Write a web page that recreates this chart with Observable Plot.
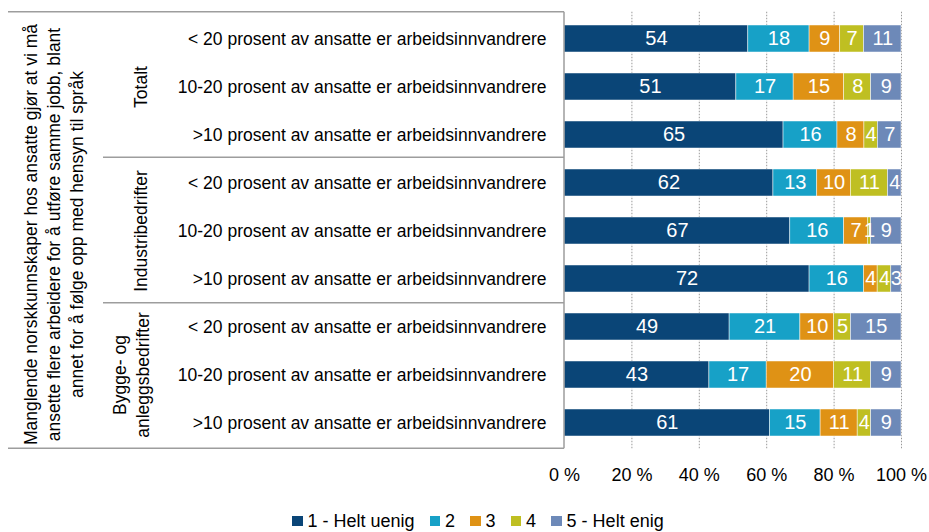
<!DOCTYPE html>
<html>
<head>
<meta charset="utf-8">
<script src="https://cdn.jsdelivr.net/npm/d3@7"></script>
<script src="https://cdn.jsdelivr.net/npm/@observablehq/plot@0.6"></script>
<style>
  body { margin: 0; background: #fff; font-family: "Liberation Sans", Arial, sans-serif; }
  #legend { display: flex; align-items: center; height: 22px; margin-top: 20px; padding-left: 292px; font-size: 18px; color: #000; }
  #legend .item { display: flex; align-items: center; margin-right: 15px; }
  #legend .sw { width: 10.5px; height: 10.5px; margin-right: 5px; }
</style>
</head>
<body>
<div id="chart"></div>
<div id="legend"></div>
<script>
const groups = ["Totalt", "Industribedrifter", "Bygge- og\nanleggsbedrifter"];
const categories = [
  "< 20 prosent av ansatte er arbeidsinnvandrere",
  "10-20 prosent av ansatte er arbeidsinnvandrere",
  ">10 prosent av ansatte er arbeidsinnvandrere"
];
const levels = ["1 - Helt uenig", "2", "3", "4", "5 - Helt enig"];
const totalt   = [[54, 18, 9, 7, 11], [51, 17, 15, 8, 9], [65, 16, 8, 4, 7]];
const industri = [[62, 13, 10, 11, 4], [67, 16, 7, 1, 9], [72, 16, 4, 4, 3]];
const bygg     = [[49, 21, 10, 5, 15], [43, 17, 20, 11, 9], [61, 15, 11, 4, 9]];
const colors = ["#0a4577", "#17a1c7", "#df9215", "#bfbf22", "#6d89b8"];
const xTicks = [0, 0.2, 0.4, 0.6, 0.8, 1];
const question = "Manglende norskkunnskaper hos ansatte gjør at vi må\nansette flere arbeidere for å utføre samme jobb, blant\nannet for å følge opp med hensyn til språk";

const groupValues = [totalt, industri, bygg];
const rows = [];
const data = [];
groups.forEach((g, gi) => {
  categories.forEach((c, ci) => {
    const key = g + "|" + c;
    rows.push(key);
    groupValues[gi][ci].forEach((v, li) => {
      data.push({row: key, level: levels[li], value: v});
    });
  });
});

const frameLines = (index, scales, values, dims) => {
  const top = dims.marginTop;
  const bottom = dims.height - dims.marginBottom;
  const step = (bottom - top) / rows.length;
  const x0 = dims.marginLeft;
  const g = d3.create("svg:g").attr("stroke", "#9d9d9d").attr("stroke-width", 1.5);
  g.append("line").attr("x1", 8).attr("x2", x0).attr("y1", top).attr("y2", top);
  g.append("line").attr("x1", 8).attr("x2", x0).attr("y1", bottom).attr("y2", bottom);
  [3, 6].forEach((k) => {
    g.append("line").attr("x1", 103).attr("x2", x0).attr("y1", top + k * step).attr("y2", top + k * step);
  });
  g.append("line").attr("x1", x0).attr("x2", x0).attr("y1", top).attr("y2", bottom);
  return g.node();
};

const chart = Plot.plot({
  width: 929,
  height: 490,
  marginLeft: 564,
  marginRight: 28,
  marginTop: 11.75,
  marginBottom: 41.75,
  style: {fontFamily: "'Liberation Sans', Arial, sans-serif", color: "#000", background: "#fff"},
  x: {domain: [0, 1]},
  y: {domain: rows, paddingInner: 0.44, paddingOuter: 0.22},
  color: {domain: levels, range: colors},
  marks: [
    Plot.ruleX(xTicks.slice(1), {stroke: "#999999", strokeWidth: 1, strokeDasharray: "1.5,1.5"}),
    Plot.barX(data, Plot.stackX({x: "value", y: "row", fill: "level", offset: "normalize", stroke: "#ffffff", strokeWidth: 0.6, strokeOpacity: 0.8})),
    Plot.textX(data, Plot.stackX({x: "value", y: "row", z: "level", offset: "normalize", text: (d) => String(d.value), fill: "white", fontSize: 20})),
    Plot.axisX({ticks: xTicks, tickFormat: (d) => Math.round(d * 100) + " %", tickSize: 0, tickPadding: 19, fontSize: 18, fill: "#000", label: null}),
    Plot.axisY({tickSize: 0, tickPadding: 18, tickFormat: (d) => d.split("|")[1], fontSize: 17.5, fill: "#000", label: null}),
    frameLines,
    Plot.text([groups[0], groups[1]], {y: (d) => d + "|" + categories[1], text: (d) => d, frameAnchor: "left", dx: 141 - 564, rotate: -90, fontSize: 17.5, fill: "#000", textAnchor: "middle", lineAnchor: "middle"}),
    Plot.text([groups[2]], {y: (d) => d + "|" + categories[1], text: (d) => d, frameAnchor: "left", dx: 129.5 - 564, rotate: -90, fontSize: 17.5, fill: "#000", textAnchor: "middle", lineAnchor: "middle", lineHeight: 1.31}),
    Plot.text([question], {text: (d) => d, frameAnchor: "left", dx: 52 - 564, dy: 4, rotate: -90, fontSize: 17.5, fill: "#000", textAnchor: "middle", lineAnchor: "middle", lineHeight: 1.31})
  ]
});
document.getElementById("chart").appendChild(chart);

const legend = d3.select("#legend");
levels.forEach((l, i) => {
  const item = legend.append("div").attr("class", "item");
  item.append("div").attr("class", "sw").style("background", colors[i]);
  item.append("span").text(l);
});
</script>
</body>
</html>
